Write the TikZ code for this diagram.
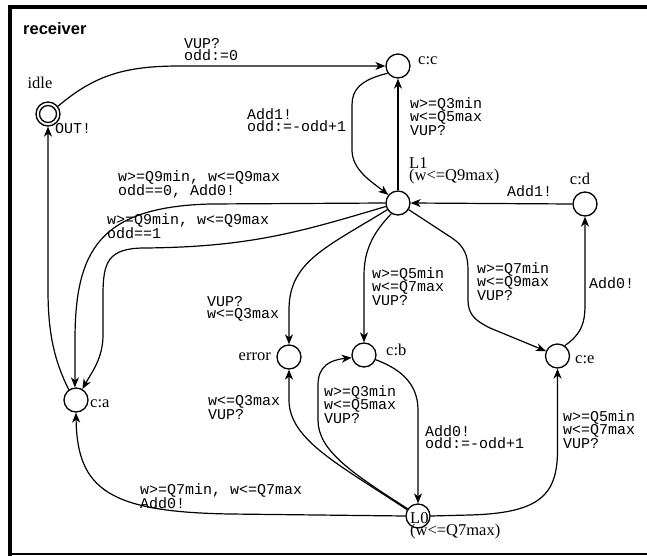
\documentclass[tikz,border=0pt]{standalone}
\usepackage{fontspec}
\setmainfont{Liberation Serif}
\newfontfamily\monofont{Liberation Mono}
\newfontfamily\sansfont{Liberation Sans}
\usetikzlibrary{arrows.meta}
\begin{document}
\begin{tikzpicture}[x=1pt,y=-1pt,
  state/.style={circle,draw,line width=1.3pt,minimum size=24pt,inner sep=0pt},
  edge/.style={line width=1.2pt,-{Stealth[length=10pt,width=8pt,inset=3pt]}},
  glabel/.style={font=\monofont\fontsize{15}{12}\selectfont,align=left,anchor=north west,inner sep=0pt},
  slabel/.style={font=\fontsize{16.5}{12}\selectfont,inner sep=0pt},
]
\useasboundingbox (0,0) rectangle (647,556);
% frame
\draw[line width=4pt] (9.5,556) -- (9.5,7) -- (647,7);
\draw[line width=2pt] (9.5,553.5) -- (647,553.5);
\node[font=\sansfont\bfseries\fontsize{16.5}{18}\selectfont,anchor=base west,inner sep=0pt] (title) at (23,35) {receiver};

% states
\node[state] (idle) at (48,114) {};
\draw[line width=1.3pt] (idle.center) circle[radius=8.5];
\node[state] (cc) at (398,66) {};
\node[state] (L1) at (398,203) {};
\node[state] (cd) at (585,204) {};
\node[state] (ce) at (557.5,356) {};
\node[state] (cb) at (364,355) {};
\node[state] (err) at (289,357) {};
\node[state] (ca) at (76,400) {};
\node[state] (L0) at (418,516) {};

% state names
\node[slabel,anchor=base] (nidle) at (40,89) {idle};
\node[slabel,anchor=base west] (ncc) at (418,65) {c:c};
\node[slabel,anchor=north west,align=left] (nL1) at (409,157) {L1\\(w<=Q9max)};
\node[slabel,anchor=base] (ncd) at (580,184) {c:d};
\node[slabel,anchor=base west] (nce) at (575,363) {c:e};
\node[slabel,anchor=base west] (ncb) at (386,355) {c:b};
\node[slabel,anchor=base east] (nerr) at (271,360) {error};
\node[slabel,anchor=base west] (nca) at (90,407) {c:a};
\node[slabel,anchor=north west,align=left] (nL0) at (410,512) {L0\\(w<=Q7max)};

% edges
\draw[edge] (idle.38) .. controls (95,75) and (125,66) .. (180,66) -- (cc.west);
\draw[edge] (ca.125) .. controls (55,362) and (48,335) .. (48,290) -- (idle.south);
\draw[edge] (cc.215) .. controls (360,80) and (352,90) .. (352,105) -- (352,150) .. controls (352,170) and (372,182) .. (L1.140);
\draw[edge] (L1.north) -- (cc.south);
\draw[edge] (cd.west) -- (L1.east);
\draw[edge] (ce.55) .. controls (580,335) and (585,325) .. (585,305) -- (cd.south);
\draw[edge] (L1.328) -- (452,238) .. controls (464,246) and (468,255) .. (468,270) -- (468,300) .. controls (468,315) and (476,321) .. (490,328) -- (ce.157);
\draw[edge] (L1.238) .. controls (378,228) and (364,245) .. (364,275) -- (cb.north);
\draw[edge] (L1.212) .. controls (325,248) and (289,262) .. (289,310) -- (err.north);
\draw[edge] (L1.west) -- (210,204) .. controls (100,207) and (75,250) .. (75,340) -- (ca.95);
\draw[edge] (L1.196) .. controls (300,232) and (250,247) .. (145,248) .. controls (108,248) and (103,262) .. (103,295) -- (103,335) .. controls (103,358) and (92,372) .. (ca.60);
\draw[edge] (L0.150) .. controls (340,465) and (289,440) .. (289,400) -- (err.south);
\draw[edge] (L0.145) .. controls (350,472) and (318,450) .. (318,420) -- (318,385) .. controls (318,366) and (330,360) .. (cb.192);
\draw[edge] (cb.-22) .. controls (398,368) and (418,382) .. (418,410) -- (L0.north);
\draw[edge] (L0.west) -- (230,514) .. controls (110,512) and (77,490) .. (ca.south);
\draw[edge] (L0.east) -- (470,515) .. controls (540,513) and (557.5,495) .. (557.5,450) -- (ce.south);

% edge labels
\node[glabel] (g1) at (184,38) {VUP?\\odd:=0};
\node[glabel] (g2) at (55,123) {OUT!};
\node[glabel] (g3) at (247,108) {Add1!\\odd:=-odd+1};
\node[glabel] (g4) at (410,97) {w>=Q3min\\w<=Q5max\\VUP?};
\node[glabel] (g5) at (507,185) {Add1!};
\node[glabel] (g6) at (589,277) {Add0!};
\node[glabel] (g7) at (477,262) {w>=Q7min\\w<=Q9max\\VUP?};
\node[glabel] (g8) at (372,267) {w>=Q5min\\w<=Q7max\\VUP?};
\node[glabel] (g9) at (207,296) {VUP?\\w<=Q3max};
\node[glabel] (g10) at (118,170) {w>=Q9min, w<=Q9max\\odd==0, Add0!};
\node[glabel] (g11) at (107,213) {w>=Q9min, w<=Q9max\\odd==1};
\node[glabel] (g12) at (208,395) {w<=Q3max\\VUP?};
\node[glabel] (g13) at (324,385) {w>=Q3min\\w<=Q5max\\VUP?};
\node[glabel] (g14) at (425,425) {Add0!\\odd:=-odd+1};
\node[glabel] (g15) at (140,483) {w>=Q7min, w<=Q7max\\Add0!};
\node[glabel] (g16) at (563,410) {w>=Q5min\\w<=Q7max\\VUP?};
\end{tikzpicture}
\end{document}
